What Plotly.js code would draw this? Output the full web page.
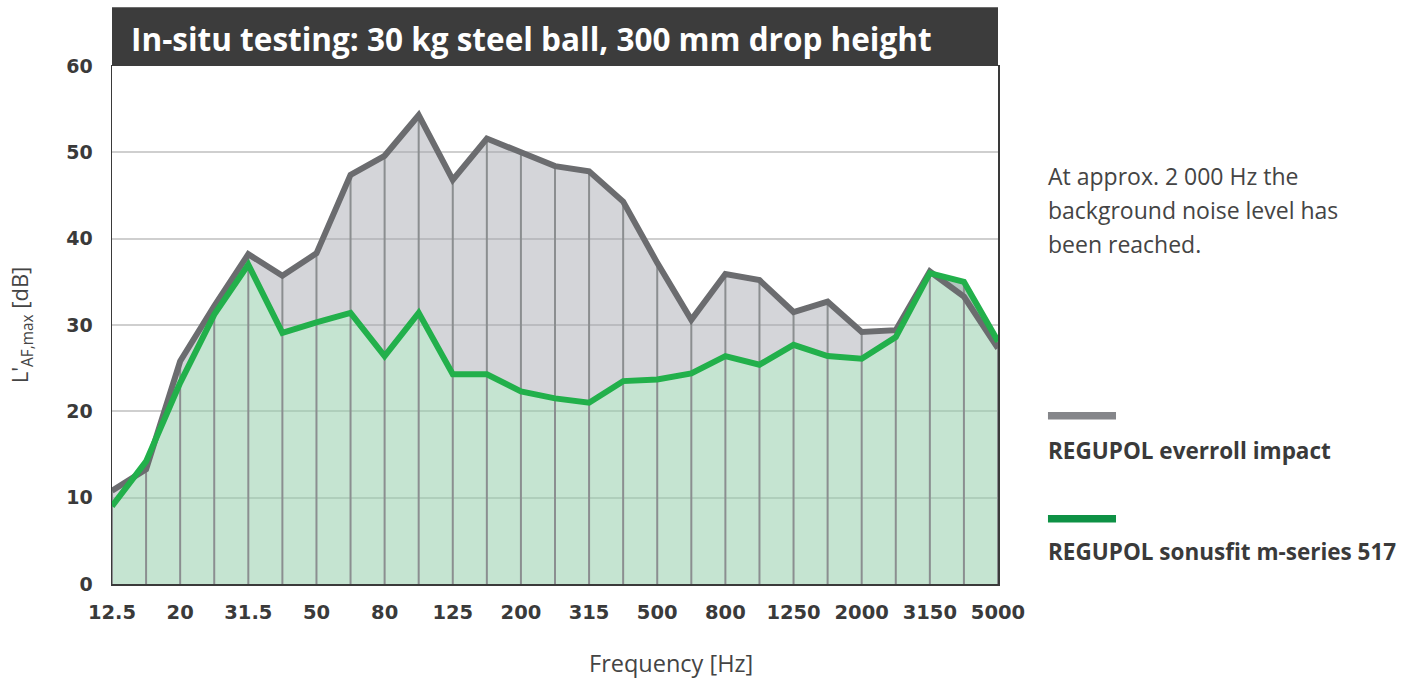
<!DOCTYPE html>
<html>
<head>
<meta charset="utf-8">
<script src="https://cdn.plot.ly/plotly-3.0.1.min.js"></script>
<style>
html,body{margin:0;padding:0;background:#fff;}
#chart{width:1417px;height:680px;}
</style>
</head>
<body>
<div id="chart"></div>
<script>
// 1/3-octave band centre frequencies [Hz]
const frequencies = ["12.5","16","20","25","31.5","40","50","63","80","100","125","160","200","250","315","400","500","630","800","1000","1250","1600","2000","2500","3150","4000","5000"];
const tickLabels = ["12.5","20","31.5","50","80","125","200","315","500","800","1250","2000","3150","5000"];
// L'AF,max [dB]
const everrollImpact = [10.8,13.3,25.8,32.2,38.2,35.7,38.3,47.4,49.6,54.3,46.8,51.6,50.0,48.4,47.8,44.3,37.2,30.6,35.9,35.2,31.5,32.7,29.2,29.4,36.2,33.3,27.3];
const sonusfit517 = [9.0,14.2,23.3,31.2,37.0,29.1,30.3,31.4,26.4,31.4,24.3,24.3,22.3,21.5,21.0,23.5,23.7,24.4,26.4,25.4,27.7,26.4,26.1,28.6,36.0,35.0,28.1];
const yTicks = [0,10,20,30,40,50,60];
const seriesNames = ["REGUPOL everroll impact","REGUPOL sonusfit m-series 517"];
const titleText = "In-situ testing: 30 kg steel ball, 300 mm drop height";
const xTitle = "Frequency [Hz]";
const noteLines = ["At approx. 2 000 Hz the","background noise level has","been reached."];

// vertical drop lines from 0 up to the upper curve at every band
const vx = [], vy = [];
frequencies.forEach((f,i)=>{
  vx.push(f,f,null);
  vy.push(0, Math.max(everrollImpact[i], sonusfit517[i]), null);
});

const traces = [
  {x:frequencies, y:sonusfit517, type:'scatter', mode:'lines', fill:'tozeroy',
   fillcolor:'rgba(150,205,172,0.55)', line:{width:0, color:'rgba(0,0,0,0)'}, hoverinfo:'skip', showlegend:false},
  {x:frequencies, y:everrollImpact, type:'scatter', mode:'lines', fill:'tonexty',
   fillcolor:'rgba(160,162,170,0.45)', line:{width:0, color:'rgba(0,0,0,0)'}, hoverinfo:'skip', showlegend:false},
  {x:vx, y:vy, type:'scatter', mode:'lines', line:{color:'#8b8e90', width:2}, hoverinfo:'skip', showlegend:false, connectgaps:false},
  {x:frequencies, y:everrollImpact, type:'scatter', mode:'lines', name:seriesNames[0],
   line:{color:'#6b6c6f', width:6}, showlegend:false},
  {x:frequencies, y:sonusfit517, type:'scatter', mode:'lines', name:seriesNames[1],
   line:{color:'#22b04b', width:6}, showlegend:false}
];

const fontMain = '"Open Sans", Roboto, sans-serif';
const fontTick = '"DejaVu Sans", "Open Sans", sans-serif';
const px2paper = py => (584 - py) / 518;
const px2paperX = px => (px - 112) / 886;

const annotations = [
  {xref:'paper', yref:'paper', x:0, xshift:17, y:1, yshift:28, xanchor:'left', yanchor:'middle',
   text:'<b>'+titleText+'</b>', showarrow:false, font:{family:fontMain, size:31.5, color:'#ffffff'}},
  {xref:'paper', yref:'paper', x:px2paperX(671), y:px2paper(663), xanchor:'center', yanchor:'middle',
   text:xTitle, showarrow:false, font:{family:fontMain, size:23.5, color:'#444444'}}
];
const noteY = [176, 210, 244];
noteLines.forEach((t,i)=>{
  annotations.push({xref:'paper', yref:'paper', x:1, xshift:48, y:px2paper(noteY[i]), xanchor:'left', yanchor:'middle', align:'left',
    text:t, showarrow:false, font:{family:fontMain, size:23, color:'#444444'}});
});
annotations.push(
  {xref:'paper', yref:'paper', x:1, xshift:48, y:px2paper(450), xanchor:'left', yanchor:'middle', align:'left',
   text:'<b>'+seriesNames[0]+'</b>', showarrow:false, font:{family:fontMain, size:22.5, color:'#3a3a3a'}},
  {xref:'paper', yref:'paper', x:1, xshift:48, y:px2paper(551), xanchor:'left', yanchor:'middle', align:'left',
   text:'<b>'+seriesNames[1]+'</b>', showarrow:false, font:{family:fontMain, size:22.5, color:'#3a3a3a'}}
);

const shapes = [
  {type:'rect', xref:'paper', yref:'paper', x0:0, x1:1, y0:1, y1:1.1135, fillcolor:'#3c3c3c', line:{width:0}, layer:'above'},
  {type:'rect', xref:'paper', yref:'paper', x0:1.0564, x1:1.1332, y0:px2paper(419.5), y1:px2paper(412), fillcolor:'#85868a', line:{width:0}},
  {type:'rect', xref:'paper', yref:'paper', x0:1.0564, x1:1.1332, y0:px2paper(522.5), y1:px2paper(515), fillcolor:'#0e9145', line:{width:0}}
];

const layout = {
  width:1417, height:680,
  margin:{l:112, r:419, t:66, b:96},
  paper_bgcolor:'#ffffff', plot_bgcolor:'#ffffff',
  showlegend:false,
  font:{family:fontMain, color:'#333333'},
  xaxis:{
    type:'category', range:[0, frequencies.length-1],
    tickmode:'array', tickvals:tickLabels, ticktext:tickLabels,
    showgrid:false, zeroline:false, showline:true, mirror:true, linecolor:'#3a3a3a', linewidth:1.5,
    ticks:'', ticklabelstandoff:10, tickfont:{family:fontTick, size:19.5, color:'#3a3a3a', weight:'bold'},
    fixedrange:true
  },
  yaxis:{
    range:[0,60], tickmode:'array', tickvals:yTicks,
    showgrid:true, gridcolor:'#cfcfcf', gridwidth:2, zeroline:false,
    showline:true, mirror:true, linecolor:'#3a3a3a', linewidth:1.5,
    ticks:'', ticklabelstandoff:14,
    tickfont:{family:fontTick, size:19, color:'#3a3a3a', weight:'bold'},
    title:{text:"L'<sub>AF,max</sub> [dB]", font:{family:fontMain, size:22, color:'#444444'}, standoff:31},
    fixedrange:true
  },
  annotations:annotations,
  shapes:shapes
};

Plotly.newPlot('chart', traces, layout, {displayModeBar:false, staticPlot:true});
</script>
</body>
</html>
